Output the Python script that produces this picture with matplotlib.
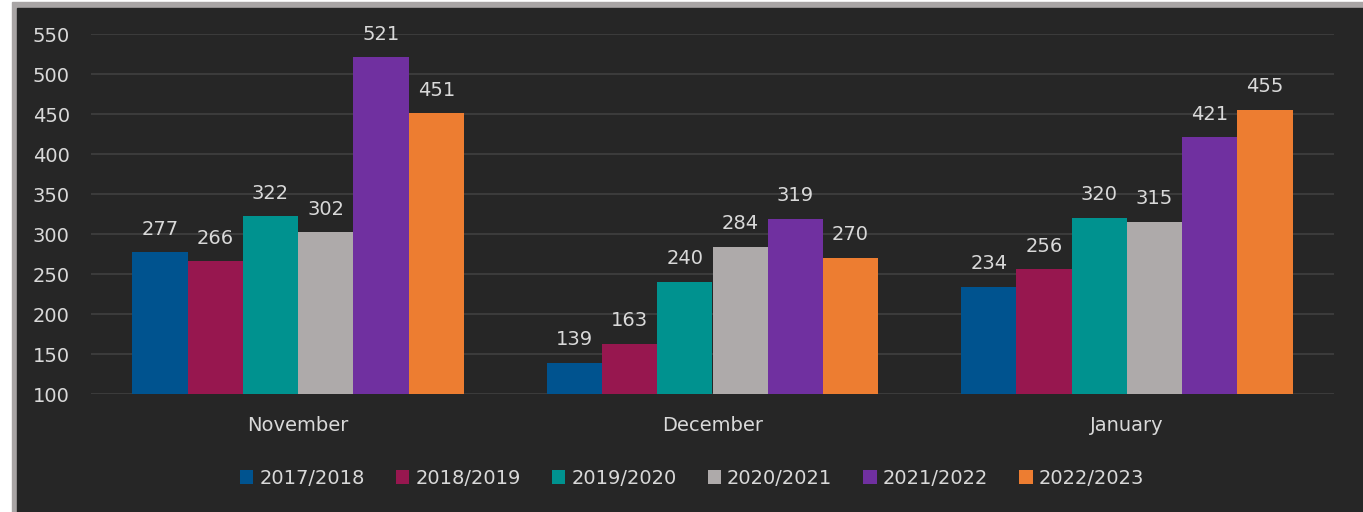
import matplotlib.pyplot as plt
import matplotlib.patches as mpatches
import numpy as np

months = ['November', 'December', 'January']
seasons = ['2017/2018', '2018/2019', '2019/2020', '2020/2021', '2021/2022', '2022/2023']
s2017 = [277, 139, 234]
s2018 = [266, 163, 256]
s2019 = [322, 240, 320]
s2020 = [302, 284, 315]
s2021 = [521, 319, 421]
s2022 = [451, 270, 455]
colors = ['#00538f', '#97174f', '#00928f', '#aeaaaa', '#7030a0', '#ed7d31']

plt.rcParams['font.family'] = ['DejaVu Sans']
txt = '#d9d9d9'
fs = 14

fig = plt.figure(figsize=(13.63, 5.12), dpi=100, facecolor='white')
W, H = 1363, 512
# gray frame + dark panel
fig.patches.append(mpatches.Rectangle((12 / W, 0), 1 - 12 / W, 1 - 2 / H,
                                      transform=fig.transFigure, color='#a9a5a5', zorder=-2))
fig.patches.append(mpatches.Rectangle((17 / W, 0), 1 - 17 / W, 1 - 8 / H,
                                      transform=fig.transFigure, color='#262626', zorder=-1))

ax = fig.add_axes([91 / W, 1 - 394 / H, (1334 - 91) / W, (394 - 34) / H])
ax.set_facecolor('none')

series = [s2017, s2018, s2019, s2020, s2021, s2022]
x = np.arange(len(months))
bw = 0.8 / len(series)
for i, (vals, name, c) in enumerate(zip(series, seasons, colors)):
  pos = x - 0.4 + bw * (i + 0.5)
  ax.bar(pos, np.array(vals) - 100, bw, bottom=100, color=c, label=name, zorder=2)
  for xp, v in zip(pos, vals):
    ax.text(xp, v + 17, str(v), ha='center', va='bottom', color=txt, fontsize=fs)

ax.set_xlim(-0.5, 2.5)
ax.set_ylim(100, 550)
ax.set_yticks(range(100, 551, 50))
ax.set_xticks(x)
ax.set_xticklabels(months)
ax.yaxis.grid(True, color='#404040', linewidth=1.2, zorder=0)
ax.tick_params(length=0, colors=txt, labelsize=fs)
ax.tick_params(axis='x', pad=15.5)
for lab in ax.get_yticklabels():
  lab.set_horizontalalignment('left')
ax.tick_params(axis='y', pad=42)
for s in ax.spines.values():
  s.set_visible(False)

leg = fig.legend(loc='center', bbox_to_anchor=(692 / W, 1 - 478 / H), ncol=6, frameon=False,
                 fontsize=fs, handlelength=0.7, handleheight=0.7, handletextpad=0.3,
                 columnspacing=1.6, labelcolor=txt)

plt.savefig('out.png', dpi=100, facecolor='white')
